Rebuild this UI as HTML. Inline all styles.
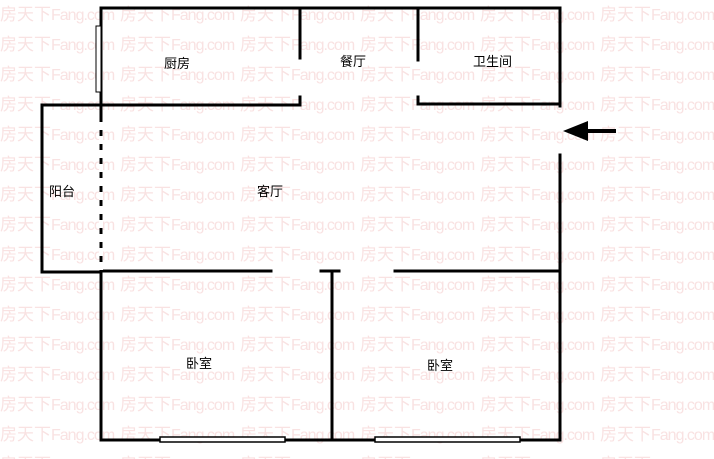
<!DOCTYPE html>
<html><head><meta charset="utf-8"><style>
html,body{margin:0;padding:0;background:#fff;width:714px;height:459px;overflow:hidden;position:relative}
.wm{position:absolute;left:0;top:0;width:714px;height:459px;font-family:"Liberation Sans","Noto Sans CJK SC",sans-serif;color:#f9e2e2;font-size:17px;white-space:nowrap}
.wm div{height:30px;line-height:30px}
.wm span{display:inline-block;width:120px;overflow:hidden}
.wm b{font-weight:normal;display:inline-block;letter-spacing:-1px;font-size:16px}
svg{position:absolute;left:0;top:0}
.l{position:absolute;font-family:"Liberation Sans","Noto Sans CJK SC",sans-serif;font-size:13px;color:#000}
</style></head><body>
<div class="wm">
<div><span>房天下<b>Fang.com</b></span><span>房天下<b>Fang.com</b></span><span>房天下<b>Fang.com</b></span><span>房天下<b>Fang.com</b></span><span>房天下<b>Fang.com</b></span><span>房天下<b>Fang.com</b></span></div>
<div><span>房天下<b>Fang.com</b></span><span>房天下<b>Fang.com</b></span><span>房天下<b>Fang.com</b></span><span>房天下<b>Fang.com</b></span><span>房天下<b>Fang.com</b></span><span>房天下<b>Fang.com</b></span></div>
<div><span>房天下<b>Fang.com</b></span><span>房天下<b>Fang.com</b></span><span>房天下<b>Fang.com</b></span><span>房天下<b>Fang.com</b></span><span>房天下<b>Fang.com</b></span><span>房天下<b>Fang.com</b></span></div>
<div><span>房天下<b>Fang.com</b></span><span>房天下<b>Fang.com</b></span><span>房天下<b>Fang.com</b></span><span>房天下<b>Fang.com</b></span><span>房天下<b>Fang.com</b></span><span>房天下<b>Fang.com</b></span></div>
<div><span>房天下<b>Fang.com</b></span><span>房天下<b>Fang.com</b></span><span>房天下<b>Fang.com</b></span><span>房天下<b>Fang.com</b></span><span>房天下<b>Fang.com</b></span><span>房天下<b>Fang.com</b></span></div>
<div><span>房天下<b>Fang.com</b></span><span>房天下<b>Fang.com</b></span><span>房天下<b>Fang.com</b></span><span>房天下<b>Fang.com</b></span><span>房天下<b>Fang.com</b></span><span>房天下<b>Fang.com</b></span></div>
<div><span>房天下<b>Fang.com</b></span><span>房天下<b>Fang.com</b></span><span>房天下<b>Fang.com</b></span><span>房天下<b>Fang.com</b></span><span>房天下<b>Fang.com</b></span><span>房天下<b>Fang.com</b></span></div>
<div><span>房天下<b>Fang.com</b></span><span>房天下<b>Fang.com</b></span><span>房天下<b>Fang.com</b></span><span>房天下<b>Fang.com</b></span><span>房天下<b>Fang.com</b></span><span>房天下<b>Fang.com</b></span></div>
<div><span>房天下<b>Fang.com</b></span><span>房天下<b>Fang.com</b></span><span>房天下<b>Fang.com</b></span><span>房天下<b>Fang.com</b></span><span>房天下<b>Fang.com</b></span><span>房天下<b>Fang.com</b></span></div>
<div><span>房天下<b>Fang.com</b></span><span>房天下<b>Fang.com</b></span><span>房天下<b>Fang.com</b></span><span>房天下<b>Fang.com</b></span><span>房天下<b>Fang.com</b></span><span>房天下<b>Fang.com</b></span></div>
<div><span>房天下<b>Fang.com</b></span><span>房天下<b>Fang.com</b></span><span>房天下<b>Fang.com</b></span><span>房天下<b>Fang.com</b></span><span>房天下<b>Fang.com</b></span><span>房天下<b>Fang.com</b></span></div>
<div><span>房天下<b>Fang.com</b></span><span>房天下<b>Fang.com</b></span><span>房天下<b>Fang.com</b></span><span>房天下<b>Fang.com</b></span><span>房天下<b>Fang.com</b></span><span>房天下<b>Fang.com</b></span></div>
<div><span>房天下<b>Fang.com</b></span><span>房天下<b>Fang.com</b></span><span>房天下<b>Fang.com</b></span><span>房天下<b>Fang.com</b></span><span>房天下<b>Fang.com</b></span><span>房天下<b>Fang.com</b></span></div>
<div><span>房天下<b>Fang.com</b></span><span>房天下<b>Fang.com</b></span><span>房天下<b>Fang.com</b></span><span>房天下<b>Fang.com</b></span><span>房天下<b>Fang.com</b></span><span>房天下<b>Fang.com</b></span></div>
<div><span>房天下<b>Fang.com</b></span><span>房天下<b>Fang.com</b></span><span>房天下<b>Fang.com</b></span><span>房天下<b>Fang.com</b></span><span>房天下<b>Fang.com</b></span><span>房天下<b>Fang.com</b></span></div>
<div><span>房天下<b>Fang.com</b></span><span>房天下<b>Fang.com</b></span><span>房天下<b>Fang.com</b></span><span>房天下<b>Fang.com</b></span><span>房天下<b>Fang.com</b></span><span>房天下<b>Fang.com</b></span></div>
</div>
<svg width="714" height="459" viewBox="0 0 714 459">
<g stroke="#000" stroke-width="3" fill="none" stroke-linecap="square">
<path d="M101 8H560V106"/>
<path d="M560 155V440"/>
<path d="M101 8V271"/>
<path d="M101 105H300"/>
<path d="M300 8V58M300 97V105"/>
<path d="M418 8V60M418 97V104H560"/>
<path d="M101 105H42V272H101"/>
<path d="M101 271H271M395 271H558M321 271H339M332 271V440"/>
<path d="M101 271V440H560"/>
</g>
<path d="M101 122V270" stroke="#fff" stroke-width="4" stroke-dasharray="8 6"/>
<rect x="96" y="26" width="5" height="66" fill="#fff" stroke="#000" stroke-width="1"/>
<rect x="160" y="437" width="125" height="5" fill="#fff" stroke="#000" stroke-width="1.5"/>
<rect x="375" y="437" width="145" height="5" fill="#fff" stroke="#000" stroke-width="1.5"/>
<path d="M580 131H616" stroke="#000" stroke-width="4"/>
<path d="M563 131L588 121V141Z" fill="#000"/>
</svg>
<div class="l" style="left:164px;top:53px">厨房</div>
<div class="l" style="left:340px;top:51px">餐厅</div>
<div class="l" style="left:473px;top:51px">卫生间</div>
<div class="l" style="left:49px;top:181px">阳台</div>
<div class="l" style="left:257px;top:181px">客厅</div>
<div class="l" style="left:186px;top:353px">卧室</div>
<div class="l" style="left:427px;top:355px">卧室</div>
</body></html>
